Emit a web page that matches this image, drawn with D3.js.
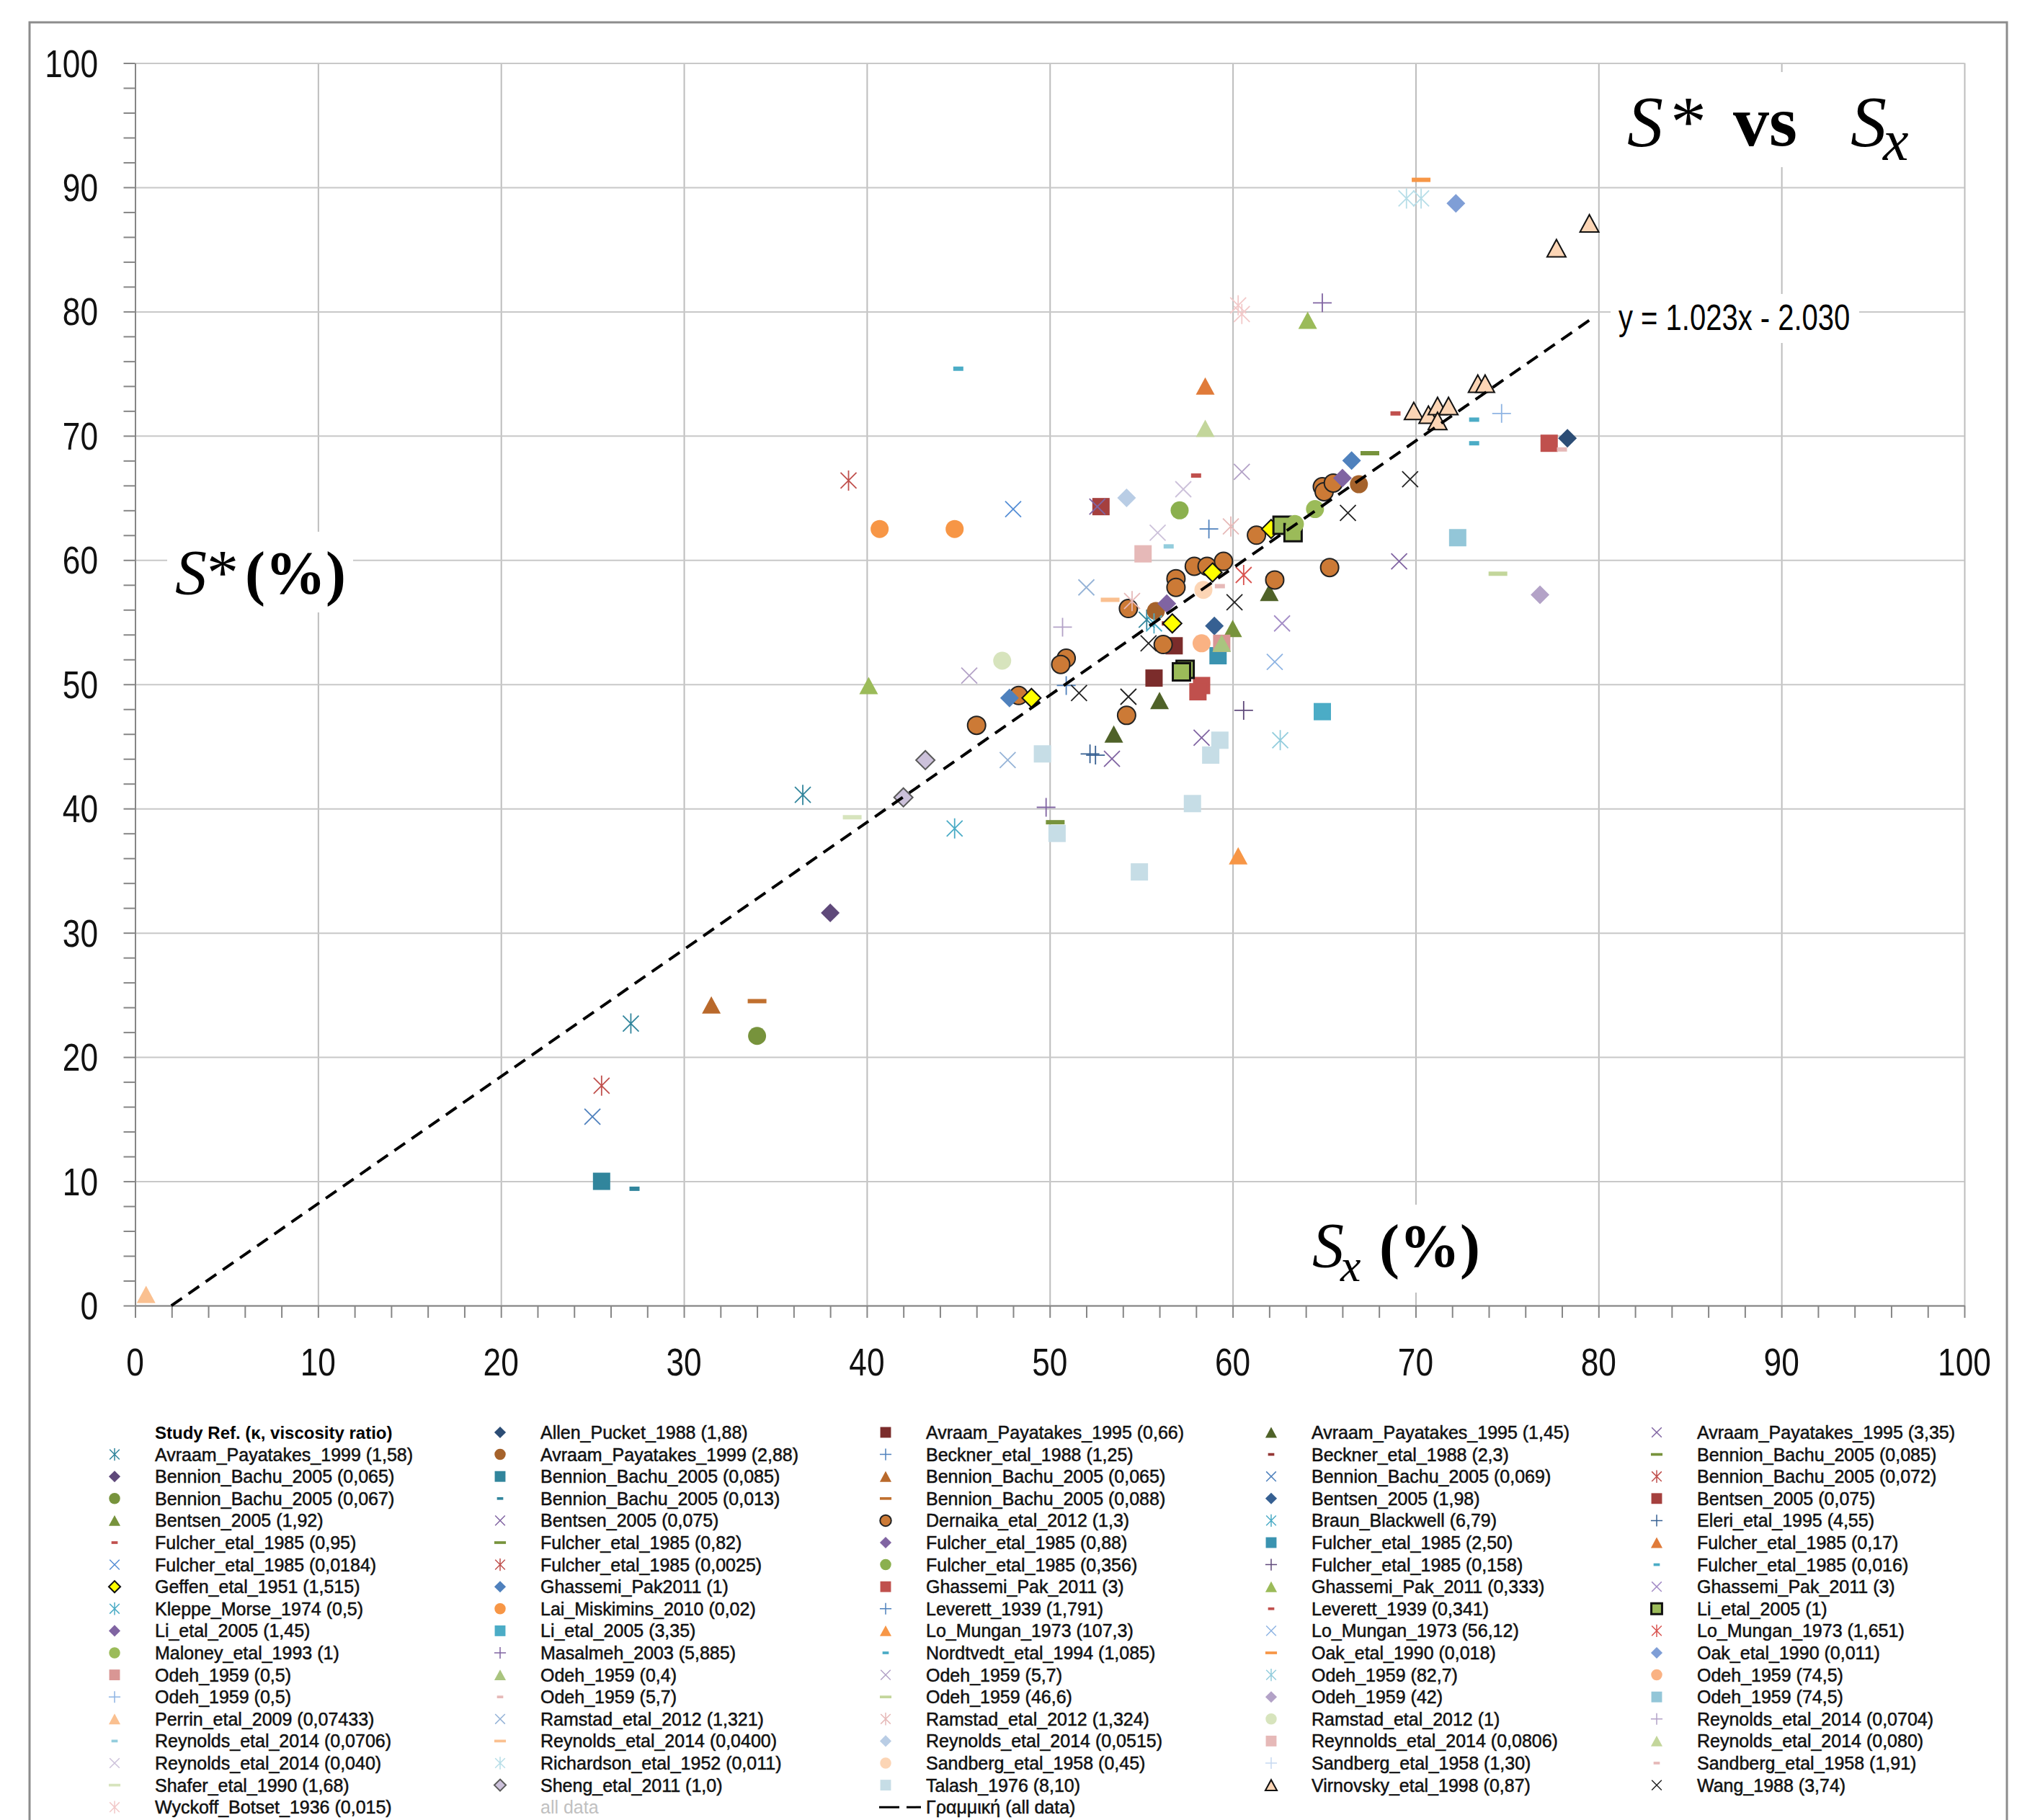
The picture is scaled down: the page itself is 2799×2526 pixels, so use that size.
<!DOCTYPE html>
<html>
<head>
<meta charset="utf-8">
<script src="https://cdn.jsdelivr.net/npm/d3@7"></script>
<style>
body { margin: 0; background: #fff; }
svg { display: block; }
</style>
</head>
<body>
<svg id="chart" width="2799" height="2526"></svg>
<script>
// axis ticks
const xTicks = [0, 10, 20, 30, 40, 50, 60, 70, 80, 90, 100];
const yTicks = [0, 10, 20, 30, 40, 50, 60, 70, 80, 90, 100];
const minorTicks = d3.range(0, 101, 2);

// linear fit of all data
const trendSlope = 1.023;
const trendIntercept = -2.030;
const trendRange = [1.98, 79.6];
const trendLabel = "y = 1.023x - 2.030";

// studies, in legend order (column by column)
const studyNames = [
  "Avraam_Payatakes_1999 (1,58)", "Bennion_Bachu_2005 (0,065)", "Bennion_Bachu_2005 (0,067)",
  "Bentsen_2005 (1,92)", "Fulcher_etal_1985 (0,95)", "Fulcher_etal_1985 (0,0184)",
  "Geffen_etal_1951 (1,515)", "Kleppe_Morse_1974 (0,5)", "Li_etal_2005 (1,45)",
  "Maloney_etal_1993 (1)", "Odeh_1959 (0,5)", "Odeh_1959 (0,5)",
  "Perrin_etal_2009 (0,07433)", "Reynolds_etal_2014 (0,0706)", "Reynolds_etal_2014 (0,040)",
  "Shafer_etal_1990 (1,68)", "Wyckoff_Botset_1936 (0,015)",

  "Allen_Pucket_1988 (1,88)", "Avraam_Payatakes_1999 (2,88)", "Bennion_Bachu_2005 (0,085)",
  "Bennion_Bachu_2005 (0,013)", "Bentsen_2005 (0,075)", "Fulcher_etal_1985 (0,82)",
  "Fulcher_etal_1985 (0,0025)", "Ghassemi_Pak2011 (1)", "Lai_Miskimins_2010 (0,02)",
  "Li_etal_2005 (3,35)", "Masalmeh_2003 (5,885)", "Odeh_1959 (0,4)",
  "Odeh_1959 (5,7)", "Ramstad_etal_2012 (1,321)", "Reynolds_etal_2014 (0,0400)",
  "Richardson_etal_1952 (0,011)", "Sheng_etal_2011 (1,0)",

  "Avraam_Payatakes_1995 (0,66)", "Beckner_etal_1988 (1,25)", "Bennion_Bachu_2005 (0,065)",
  "Bennion_Bachu_2005 (0,088)", "Dernaika_etal_2012 (1,3)", "Fulcher_etal_1985 (0,88)",
  "Fulcher_etal_1985 (0,356)", "Ghassemi_Pak_2011 (3)", "Leverett_1939 (1,791)",
  "Lo_Mungan_1973 (107,3)", "Nordtvedt_etal_1994 (1,085)", "Odeh_1959 (5,7)",
  "Odeh_1959 (46,6)", "Ramstad_etal_2012 (1,324)", "Reynolds_etal_2014 (0,0515)",
  "Sandberg_etal_1958 (0,45)", "Talash_1976 (8,10)",

  "Avraam_Payatakes_1995 (1,45)", "Beckner_etal_1988 (2,3)", "Bennion_Bachu_2005 (0,069)",
  "Bentsen_2005 (1,98)", "Braun_Blackwell (6,79)", "Fulcher_etal_1985 (2,50)",
  "Fulcher_etal_1985 (0,158)", "Ghassemi_Pak_2011 (0,333)", "Leverett_1939 (0,341)",
  "Lo_Mungan_1973 (56,12)", "Oak_etal_1990 (0,018)", "Odeh_1959 (82,7)",
  "Odeh_1959 (42)", "Ramstad_etal_2012 (1)", "Reynnolds_etal_2014 (0,0806)",
  "Sandberg_etal_1958 (1,30)", "Virnovsky_etal_1998 (0,87)",

  "Avraam_Payatakes_1995 (3,35)", "Bennion_Bachu_2005 (0,085)", "Bennion_Bachu_2005 (0,072)",
  "Bentsen_2005 (0,075)", "Eleri_etal_1995 (4,55)", "Fulcher_etal_1985 (0,17)",
  "Fulcher_etal_1985 (0,016)", "Ghassemi_Pak_2011 (3)", "Li_etal_2005 (1)",
  "Lo_Mungan_1973 (1,651)", "Oak_etal_1990 (0,011)", "Odeh_1959 (74,5)",
  "Odeh_1959 (74,5)", "Reynolds_etal_2014 (0,0704)", "Reynolds_etal_2014 (0,080)",
  "Sandberg_etal_1958 (1,91)", "Wang_1988 (3,74)"
];

// S_x (%) per study
const studySx = [
  [36.5, 27.1, 55.3], [38.0], [34.0], [60.0], [68.9], [48.0],
  [62.1, 58.9, 56.7, 49.0], [44.8], [66.0], [64.5, 63.4], [59.4], [74.7],
  [0.6], [56.5], [57.3, 55.9], [39.2], [60.3, 60.5],

  [78.3], [66.9, 55.8], [25.5], [27.3], [52.6], [67.5], [39.0], [66.5, 47.8],
  [40.7, 44.8], [64.9], [64.9, 49.8], [59.4], [78.0], [52.0, 47.7], [53.3],
  [69.5, 70.3], [42.0, 43.2],

  [56.8, 55.7], [50.9], [31.5], [34.0],
  [64.9, 65.0, 65.5, 61.3, 57.9, 58.6, 59.5, 56.9, 56.9, 54.3, 56.2, 62.3, 65.3, 54.2, 48.3, 50.9, 50.6, 46.0],
  [56.4], [57.1], [58.3, 58.1, 77.3], [58.7], [60.3], [45.0], [60.5, 45.6], [74.5],
  [59.9, 54.5], [54.2], [58.4], [49.6, 57.8, 50.4, 54.9, 59.3, 58.8],

  [62.0, 56.0, 53.5], [56.4], [25.0], [59.0], [55.7], [59.2], [60.6], [64.1, 40.1],
  [58.0], [62.3], [70.3], [62.6], [76.8], [47.4], [55.1], [],
  [69.9, 70.7, 71.2, 71.8, 71.2, 73.4, 73.8, 79.5, 77.7],

  [58.3, 53.4, 69.1], [50.3], [25.5], [52.8], [52.2, 52.5], [58.5], [73.2, 73.2],
  [62.7], [62.7, 63.3, 57.4, 57.2], [60.6], [72.2], [58.3], [72.3], [50.7], [58.5],
  [59.3], [66.3, 69.7, 60.1, 55.4, 54.3, 51.6]
];

// S* (%) per study
const studySstar = [
  [41.1, 22.7, 55.2], [31.6], [21.7], [54.5], [71.8], [64.1],
  [62.5, 59.0, 54.9, 48.9], [38.4], [66.6], [64.1, 62.9], [53.3], [71.8],
  [0.9], [61.1], [65.7, 62.2], [39.3], [80.5, 79.8],

  [69.8], [66.1, 55.9], [10.0], [9.4], [64.3], [68.6], [66.4], [68.0, 48.9],
  [62.5, 62.5], [47.8], [80.7, 40.1], [53.3], [68.9], [57.8, 43.9], [56.8],
  [89.1, 89.1], [40.9, 43.9],

  [53.1, 50.5], [49.9], [24.2], [24.5],
  [65.9, 65.5, 66.2, 62.0, 59.5, 59.5, 59.9, 58.5, 57.8, 56.1, 53.2, 58.4, 59.4, 47.5, 49.1, 52.1, 51.6, 46.7],
  [56.5], [64.0], [49.9, 49.4, 69.4], [62.5], [36.2], [75.4], [67.1, 50.7], [58.9],
  [62.7, 56.7], [65.0], [57.6], [44.4, 40.4, 38.0, 34.9, 45.5, 44.3],

  [57.4, 48.7, 46.0], [54.9], [15.2], [54.7], [54.9], [52.3], [47.9], [79.3, 49.9],
  [66.8], [51.8], [90.6], [45.5], [57.2], [51.9], [60.5], [],
  [72.0, 71.7, 72.4, 72.4, 71.2, 74.2, 74.2, 87.1, 85.1],

  [45.7, 44.0, 59.9], [38.9], [17.7], [64.3], [44.4, 44.3], [74.0], [71.3, 69.4],
  [54.9], [62.8, 62.2, 51.2, 51.0], [58.8], [88.7], [53.3], [61.8], [54.6], [70.6],
  [57.9], [63.8, 66.5, 56.6, 53.3, 49.0, 49.3]
];

// marker look per study: shape, fill/stroke colour, optional edge colour
const markerStyles = [
  ["star", "#31859c"], ["diamond", "#5f497a"], ["circle", "#77933c"],
  ["triangle", "#77933c"], ["dash", "#c0504d"], ["x", "#558ed5"],
  ["diamond", "#ffff00", "#111"], ["star", "#4bacc6"], ["diamond", "#8064a2"],
  ["circle", "#9bbb59"], ["square", "#d99694"], ["plus", "#8eb4e3"],
  ["triangle", "#fac090"], ["dash", "#93cddd"], ["x", "#ccc1da"],
  ["bar", "#d7e4bd"], ["star", "#f2c9c9"],

  ["diamond", "#2c4d75"], ["circle", "#a5622b"], ["square", "#31859c"],
  ["dash", "#31859c"], ["x", "#8064a2"], ["bar", "#77933c"],
  ["star", "#c0504d"], ["diamond", "#4f81bd"], ["circle", "#f79646"],
  ["square", "#4bacc6"], ["plus", "#8064a2"], ["triangle", "#a9c47f"],
  ["dash", "#e6b9b8"], ["x", "#95b3d7"], ["bar", "#fac090"],
  ["star", "#b7dee8"], ["diamond", "#ccc1da", "#595959"],

  ["square", "#7b2c2b"], ["plus", "#4f81bd"], ["triangle", "#b9692b"],
  ["bar", "#c0702f"], ["circle", "#cc7a36", "#222"], ["diamond", "#8064a2"],
  ["circle", "#8bb04e"], ["square", "#c0504d"], ["plus", "#4f81bd"],
  ["triangle", "#f79646"], ["dash", "#4bacc6"], ["x", "#b3a2c7"],
  ["bar", "#c3d69b"], ["star", "#e6b9b8"], ["diamond", "#b9cde5"],
  ["circle", "#fcd5b5"], ["square", "#c6dde6"],

  ["triangle", "#4f6228"], ["dash", "#943634"], ["x", "#4f81bd"],
  ["diamond", "#366092"], ["star", "#4bacc6"], ["square", "#3a93b0"],
  ["plus", "#604a7b"], ["triangle", "#9bbb59"], ["dash", "#c0504d"],
  ["x", "#8eb4e3"], ["bar", "#f79646"], ["star", "#93cddd"],
  ["diamond", "#b3a2c7"], ["circle", "#d7e4bd"], ["square", "#e6b9b8"],
  ["plus", "#c6d9f1"], ["triangle", "#fcd5b5", "#111"],

  ["x", "#8064a2"], ["bar", "#77933c"], ["star", "#c0504d"],
  ["square", "#a5403e"], ["plus", "#376092"], ["triangle", "#e07b39"],
  ["dash", "#4bacc6"], ["x", "#a38cc6"], ["square", "#9bbb59", "#111"],
  ["star", "#d9534f"], ["diamond", "#7f9ed6"], ["circle", "#fab283"],
  ["square", "#93c6d8"], ["plus", "#b3a2c7"], ["triangle", "#c3d69b"],
  ["dash", "#e6b9b8"], ["x", "#222222"]
];

const lineShapes = ["x", "star", "plus"];

function shapePath(shape, s) {
  let a, b;
  switch (shape) {
    case "circle":
      a = 12.5 * s;
      return `M${a},0A${a},${a} 0 1,1 ${-a},0A${a},${a} 0 1,1 ${a},0Z`;
    case "square":
      a = 12 * s;
      return `M${-a},${-a}H${a}V${a}H${-a}Z`;
    case "triangle":
      a = 13 * s; b = 12 * s;
      return `M0,${-b}L${a},${b}L${-a},${b}Z`;
    case "diamond":
      a = 13 * s;
      return `M0,${-a}L${a},0L0,${a}L${-a},0Z`;
    case "x":
      a = 11 * s;
      return `M${-a},${-a}L${a},${a}M${-a},${a}L${a},${-a}`;
    case "star":
      a = 11 * s; b = 14 * s;
      return `M${-a},${-a}L${a},${a}M${-a},${a}L${a},${-a}M0,${-b}V${b}`;
    case "plus":
      a = 13 * s;
      return `M${-a},0H${a}M0,${-a}V${a}`;
    case "dash":
      a = 7 * s; b = 3 * s;
      return `M${-a},${-b}H${a}V${b}H${-a}Z`;
    case "bar":
      a = 13 * s; b = 3 * s;
      return `M${-a},${-b}H${a}V${b}H${-a}Z`;
  }
}

function styleMarker(sel, st, lw) {
  const [shape, color, edge] = st;
  if (lineShapes.includes(shape)) {
    sel.attr("fill", "none").attr("stroke", color).attr("stroke-width", lw);
  } else {
    sel.attr("fill", color)
      .attr("stroke", edge || "none")
      .attr("stroke-width", edge ? (shape == "square" ? 3 : 2) : 0);
  }
}

const svg = d3.select("#chart");
svg.append("rect").attr("width", 2799).attr("height", 2526).attr("fill", "#fff");

const x = d3.scaleLinear().domain([0, 100]).range([187.5, 2726]);
const y = d3.scaleLinear().domain([0, 100]).range([1812, 87.5]);

// outer frame
svg.append("rect")
  .attr("x", 41).attr("y", 31)
  .attr("width", 2744).attr("height", 2600)
  .attr("fill", "none")
  .attr("stroke", "#8c8c8c")
  .attr("stroke-width", 3);

// gridlines
svg.append("g")
  .attr("transform", "translate(0," + y(0) + ")")
  .call(d3.axisBottom(x).tickValues(xTicks).tickSize(-(y(0) - y(100))).tickFormat(""))
  .call(g => g.select(".domain").remove())
  .call(g => g.selectAll("line").attr("stroke", "#bdbdbd").attr("stroke-width", 2));
svg.append("g")
  .attr("transform", "translate(" + x(0) + ",0)")
  .call(d3.axisLeft(y).tickValues(yTicks).tickSize(-(x(100) - x(0))).tickFormat(""))
  .call(g => g.select(".domain").remove())
  .call(g => g.selectAll("line").attr("stroke", "#c8c8c8").attr("stroke-width", 2));

// white boxes behind the text labels
const boxes = [[232, 738, 258, 112], [1805, 1672, 265, 122], [2235, 408, 345, 68], [2240, 100, 440, 132]];
boxes.forEach(b => {
  svg.append("rect").attr("x", b[0]).attr("y", b[1]).attr("width", b[2]).attr("height", b[3]).attr("fill", "#fff");
});

// axes with minor ticks
svg.append("g")
  .attr("transform", "translate(" + x(0) + ",0)")
  .call(d3.axisLeft(y).tickValues(minorTicks).tickSize(16).tickSizeOuter(0).tickFormat(""))
  .call(g => g.selectAll("line,path").attr("stroke", "#868686").attr("stroke-width", 2));
svg.append("g")
  .attr("transform", "translate(0," + y(0) + ")")
  .call(d3.axisBottom(x).tickValues(minorTicks).tickSize(17).tickSizeOuter(0).tickFormat(""))
  .call(g => g.selectAll("line,path").attr("stroke", "#868686").attr("stroke-width", 2));

// tick labels (narrow sans)
svg.append("g").selectAll("text")
  .data(yTicks)
  .join("text")
  .attr("transform", d => "translate(136," + (y(d) + 19) + ") scale(0.82,1)")
  .attr("text-anchor", "end")
  .style("font-family", "'Liberation Sans', Arial, sans-serif")
  .style("font-size", "54px")
  .attr("fill", "#111")
  .text(d => d);
svg.append("g").selectAll("text")
  .data(xTicks)
  .join("text")
  .attr("transform", d => "translate(" + x(d) + ",1909) scale(0.82,1)")
  .attr("text-anchor", "middle")
  .style("font-family", "'Liberation Sans', Arial, sans-serif")
  .style("font-size", "54px")
  .attr("fill", "#111")
  .text(d => d);

// axis titles and chart title
const serif = "'Liberation Serif', 'Times New Roman', serif";
let t = svg.append("text").attr("y", 824).style("font-family", serif).style("font-size", "88px").attr("fill", "#000");
t.append("tspan").attr("x", 243).style("font-style", "italic").text("S");
t.append("tspan").attr("x", 287).text("*");
t.append("tspan").attr("x", 340).style("font-weight", "bold").style("font-size", "84px").text("(%)");

t = svg.append("text").attr("y", 1758).style("font-family", serif).style("font-size", "88px").attr("fill", "#000");
t.append("tspan").attr("x", 1821).style("font-style", "italic").text("S");
t.append("tspan").attr("x", 1860).attr("y", 1778).style("font-style", "italic").style("font-size", "64px").text("x");
t.append("tspan").attr("x", 1914).attr("y", 1758).style("font-weight", "bold").style("font-size", "84px").text("(%)");

t = svg.append("text").attr("y", 202).style("font-family", serif).style("font-size", "100px").attr("fill", "#000");
t.append("tspan").attr("x", 2258).style("font-style", "italic").text("S");
t.append("tspan").attr("x", 2318).text("*");
t.append("tspan").attr("x", 2405).style("font-weight", "bold").text("vs");
t.append("tspan").attr("x", 2568).style("font-style", "italic").text("S");
t.append("tspan").attr("x", 2613).attr("y", 222).style("font-style", "italic").style("font-size", "80px").text("x");

svg.append("text")
  .attr("transform", "translate(2246,458) scale(0.8,1)")
  .style("font-family", "'Liberation Sans', Arial, sans-serif")
  .style("font-size", "50px")
  .attr("fill", "#000")
  .text(trendLabel);

// legend slot of each study: column by column, first column starts below the header
function legendSlot(i) {
  const col = Math.floor(i / 17);
  const row = (i % 17) + (col == 0 ? 1 : 0);
  return { col: col, row: row };
}

// points, drawn in row-major legend order like the spreadsheet series
const order = d3.range(studyNames.length).sort((a, b) => {
  const sa = legendSlot(a), sb = legendSlot(b);
  return (sa.row * 5 + sa.col) - (sb.row * 5 + sb.col);
});
const points = svg.append("g").attr("id", "points");
order.forEach(i => {
  const st = markerStyles[i];
  const pts = studySx[i].map((v, k) => [v, studySstar[i][k]]);
  points.append("g").selectAll("path")
    .data(pts)
    .join("path")
    .attr("transform", d => "translate(" + x(d[0]) + "," + y(d[1]) + ")")
    .attr("d", shapePath(st[0], 1))
    .call(sel => styleMarker(sel, st, 1.8));
});

// trend line
svg.append("path")
  .datum(trendRange)
  .attr("d", d3.line().x(d => x(d)).y(d => y(trendSlope * d + trendIntercept)))
  .attr("fill", "none")
  .attr("stroke", "#000")
  .attr("stroke-width", 4)
  .attr("stroke-dasharray", "18,11");

// legend
const legend = svg.append("g").attr("id", "legend");
const colX = c => 159 + 535 * c;
const rowY = r => 1988 + 30.6 * r;
const legendFont = "'Liberation Sans', Arial, sans-serif";

legend.append("text")
  .attr("x", colX(0) + 56).attr("y", rowY(0) + 9)
  .style("font-family", legendFont).style("font-size", "24px").style("font-weight", "bold")
  .attr("fill", "#000")
  .text("Study Ref. (κ, viscosity ratio)");

studyNames.forEach((name, i) => {
  const s = legendSlot(i);
  const st = markerStyles[i];
  legend.append("path")
    .attr("transform", "translate(" + colX(s.col) + "," + rowY(s.row) + ")")
    .attr("d", shapePath(st[0], 0.62))
    .call(sel => styleMarker(sel, st, 1.5));
  legend.append("text")
    .attr("x", colX(s.col) + 56).attr("y", rowY(s.row) + 9)
    .style("font-family", legendFont).style("font-size", "25px")
    .attr("fill", "#111")
    .attr("stroke", "#111").attr("stroke-width", 0.5)
    .text(name);
});

legend.append("text")
  .attr("x", colX(1) + 56).attr("y", rowY(17) + 9)
  .style("font-family", legendFont).style("font-size", "25px")
  .attr("fill", "#c0c0c0")
  .text("all data");

legend.append("line")
  .attr("x1", colX(2) - 9).attr("x2", colX(2) + 49)
  .attr("y1", rowY(17)).attr("y2", rowY(17))
  .attr("stroke", "#000").attr("stroke-width", 3)
  .attr("stroke-dasharray", "28,10");
legend.append("text")
  .attr("x", colX(2) + 56).attr("y", rowY(17) + 9)
  .style("font-family", legendFont).style("font-size", "25px")
  .attr("fill", "#111")
  .attr("stroke", "#111").attr("stroke-width", 0.5)
  .text("Γραμμική (all data)");
</script>
</body>
</html>
